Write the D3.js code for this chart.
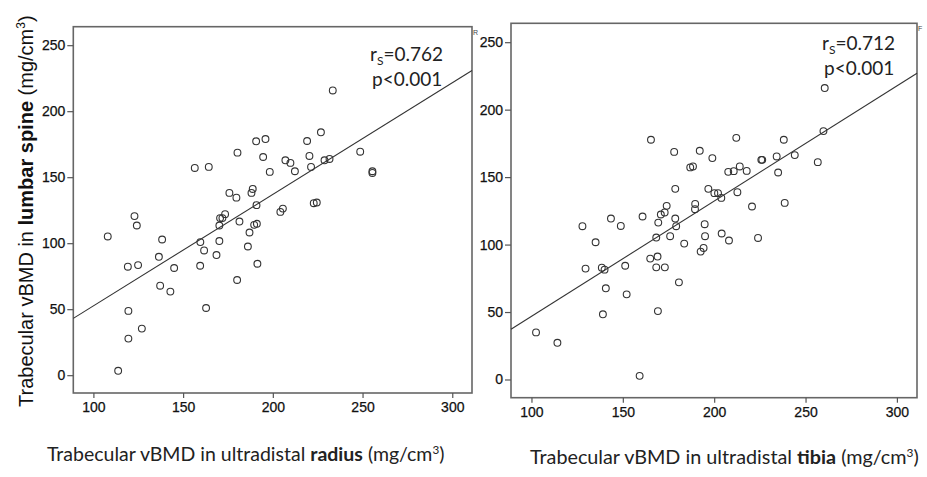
<!DOCTYPE html>
<html>
<head>
<meta charset="utf-8">
<script src="https://cdn.jsdelivr.net/npm/d3@7"></script>
<style>
  html, body { margin: 0; padding: 0; background: #fff; }
  svg { display: block; }
</style>
</head>
<body>
<svg id="chart" width="927" height="477"></svg>
<script>
// ---- Data ----
const radiusX = [156.5,164.3,180.3,190.7,195.9,194.6,198.3,207,209.8,212.3,219.1,220.4,221.3,226.8,228.8,231.6,233.4,248.7,255.5,255.5,
  175.8,179.7,188.1,188.8,190.9,204.2,205.6,222.8,224.5,122.9,124.2,108,138.3,136.5,119.2,124.9,145,137.2,142.9,159.6,
  161.7,159.5,168.6,170.2,170.2,170.6,171.9,173.4,181.4,187,186.1,189.6,191.1,191.4,180.1,162.8,119.5,127,119.5,113.8];
const spineVsRadius = [157,157.8,168.6,177.2,178.9,165.3,154,162.8,160.8,154.5,177.4,166.1,157.8,184,162.8,163.8,215.7,169.3,154.5,153.2,
  138.1,134.5,138.1,141.1,128.8,123.7,126.2,130.3,130.8,120.5,113.4,105.1,102.8,89.7,82.2,83.4,81.2,67.8,63.3,100.8,
  94.5,82.9,91,101.6,113.4,119,119,122,116.4,108.1,97.5,113.9,114.7,84.4,72.1,50.9,48.7,35.3,27.7,3.3];

const tibiaX = [165.4,178.1,192.1,186.9,188.4,199,212.1,207.7,210.7,214,217.8,225.8,226.3,234.2,238.1,244.1,235,256.7,259.8,260.5,
  178.7,196.8,200.1,202.1,203.9,212.7,174,189.6,189.5,220.7,238.6,127.9,143.5,148.9,160.8,170.8,172.9,169.4,178.7,179.2,
  194.8,175.9,168.3,195,204.1,208.1,224,183.6,194.2,192.6,135.1,165,169,168.3,173,151.3,129.6,138.5,140,140.7,
  152.1,180.7,169.2,139.1,102.5,114.2,159.2];
const spineVsTibia = [177.7,168.7,169.5,157.2,157.9,164.1,179.1,153.9,154.4,157.9,154.6,162.8,162.8,165.3,177.7,166.3,153.4,161.1,184.1,216,
  141.3,141.3,138.1,138.1,134.6,138.8,128.7,130.1,126.2,128.2,130.9,113.6,119.3,113.8,120.8,122.3,123.8,116.3,119.3,113.6,
  115.1,106.2,105.2,106.2,108.2,103,104.9,100.7,97.5,94.8,101.7,89.6,91.1,83.1,83.1,84.3,82.2,82.9,81.4,67.6,
  63.1,72,50.7,48.3,34.9,27.2,2.7];

// fitted lines [intercept, slope]
const fitRadius = [-32, 0.845];
const fitTibia = [-38.6, 0.854];

const statsRadius = ["0.762", "p<0.001"];
const statsTibia = ["0.712", "p<0.001"];

const xTicks = [100, 150, 200, 250, 300];
const yTicks = [0, 50, 100, 150, 200, 250];
const xDomain = [88.8, 311];
const yDomain = [-13.5, 264];

const svg = d3.select("#chart");
const ink = "#333";
const axisFont = "'Liberation Sans', Arial, sans-serif";
const labelFont = "Lato, 'Open Sans', sans-serif";

function panel(opts) {
  const x = d3.scaleLinear().domain(xDomain).range([opts.left, opts.right]);
  const y = d3.scaleLinear().domain(yDomain).range([opts.bottom, opts.top]);
  const g = svg.append("g");

  // frame
  g.append("rect")
    .attr("x", opts.left).attr("y", opts.top)
    .attr("width", opts.right - opts.left).attr("height", opts.bottom - opts.top)
    .attr("fill", "none").attr("stroke", "#666").attr("stroke-width", 1.6);

  // axes
  const xa = g.append("g").attr("transform", `translate(0,${opts.bottom})`)
    .call(d3.axisBottom(x).tickValues(xTicks).tickSize(5).tickPadding(4));
  const ya = g.append("g").attr("transform", `translate(${opts.left},0)`)
    .call(d3.axisLeft(y).tickValues(yTicks).tickSize(6).tickPadding(2));
  [xa, ya].forEach(a => {
    a.select(".domain").remove();
    a.selectAll("line").attr("stroke", "#555").attr("stroke-width", 1.2);
    a.selectAll("text").attr("font-family", axisFont).attr("font-size", 14)
      .attr("fill", "#111").attr("stroke", "#111").attr("stroke-width", 0.25);
  });

  // fit line
  const fx = xDomain;
  g.append("line")
    .attr("x1", x(fx[0])).attr("y1", y(opts.fit[0] + opts.fit[1] * fx[0]))
    .attr("x2", x(fx[1])).attr("y2", y(opts.fit[0] + opts.fit[1] * fx[1]))
    .attr("stroke", ink).attr("stroke-width", 1.1);

  // points
  g.append("g").selectAll("circle")
    .data(opts.xs.map((v, i) => [v, opts.ys[i]]))
    .join("circle")
    .attr("cx", d => x(d[0])).attr("cy", d => y(d[1]))
    .attr("r", 3.4)
    .attr("fill", "none").attr("stroke", ink).attr("stroke-width", 1.1);

  // stats text
  const st = g.append("text").attr("x", opts.statX).attr("y", opts.statY)
    .attr("font-family", labelFont).attr("font-size", 19).attr("fill", "#222");
  st.append("tspan").text("r");
  st.append("tspan").attr("font-size", 12).attr("dy", 4).text("S");
  st.append("tspan").attr("dy", -4).text("=" + opts.stats[0]);
  g.append("text").attr("x", opts.statX + 2).attr("y", opts.statY + 25)
    .attr("font-family", labelFont).attr("font-size", 19).attr("fill", "#222")
    .text(opts.stats[1]);

  // tiny clipped legend glyph at the top-right corner
  g.append("text").attr("x", opts.right + 1).attr("y", opts.top + 8)
    .attr("font-family", axisFont).attr("font-size", 7).attr("fill", "#444")
    .text(opts.corner);

  // x label
  const xl = g.append("text").attr("x", opts.xLabelX).attr("y", opts.xLabelY)
    .attr("font-family", labelFont).attr("font-size", opts.xLabelSize).attr("fill", "#222");
  xl.append("tspan").text("Trabecular vBMD in ultradistal ");
  xl.append("tspan").attr("font-weight", "bold").text(opts.site);
  xl.append("tspan").text(" (mg/cm");
  xl.append("tspan").attr("font-size", opts.xLabelSize * 0.6).attr("dy", -7).text("3");
  xl.append("tspan").attr("dy", 7).text(")");
  return { x, y };
}

panel({ left: 73.3, right: 472, top: 26.7, bottom: 393,
  xs: radiusX, ys: spineVsRadius, fit: fitRadius, stats: statsRadius,
  statX: 370, statY: 61, corner: "R",
  site: "radius", xLabelX: 47, xLabelY: 461, xLabelSize: 19.5 });

panel({ left: 511, right: 917, top: 23.3, bottom: 397.7,
  xs: tibiaX, ys: spineVsTibia, fit: fitTibia, stats: statsTibia,
  statX: 822, statY: 50, corner: "F",
  site: "tibia", xLabelX: 530, xLabelY: 464, xLabelSize: 19.8 });

// y label (left panel)
const yl = svg.append("text")
  .attr("transform", "translate(33,407) rotate(-90)")
  .attr("font-family", axisFont).attr("font-size", 20).attr("fill", "#111");
yl.append("tspan").text("Trabecular vBMD in ");
yl.append("tspan").attr("font-weight", "bold").text("lumbar spine");
yl.append("tspan").text(" (mg/cm");
yl.append("tspan").attr("font-size", 12).attr("dy", -8).text("3");
yl.append("tspan").attr("dy", 8).text(")");
</script>
</body>
</html>
